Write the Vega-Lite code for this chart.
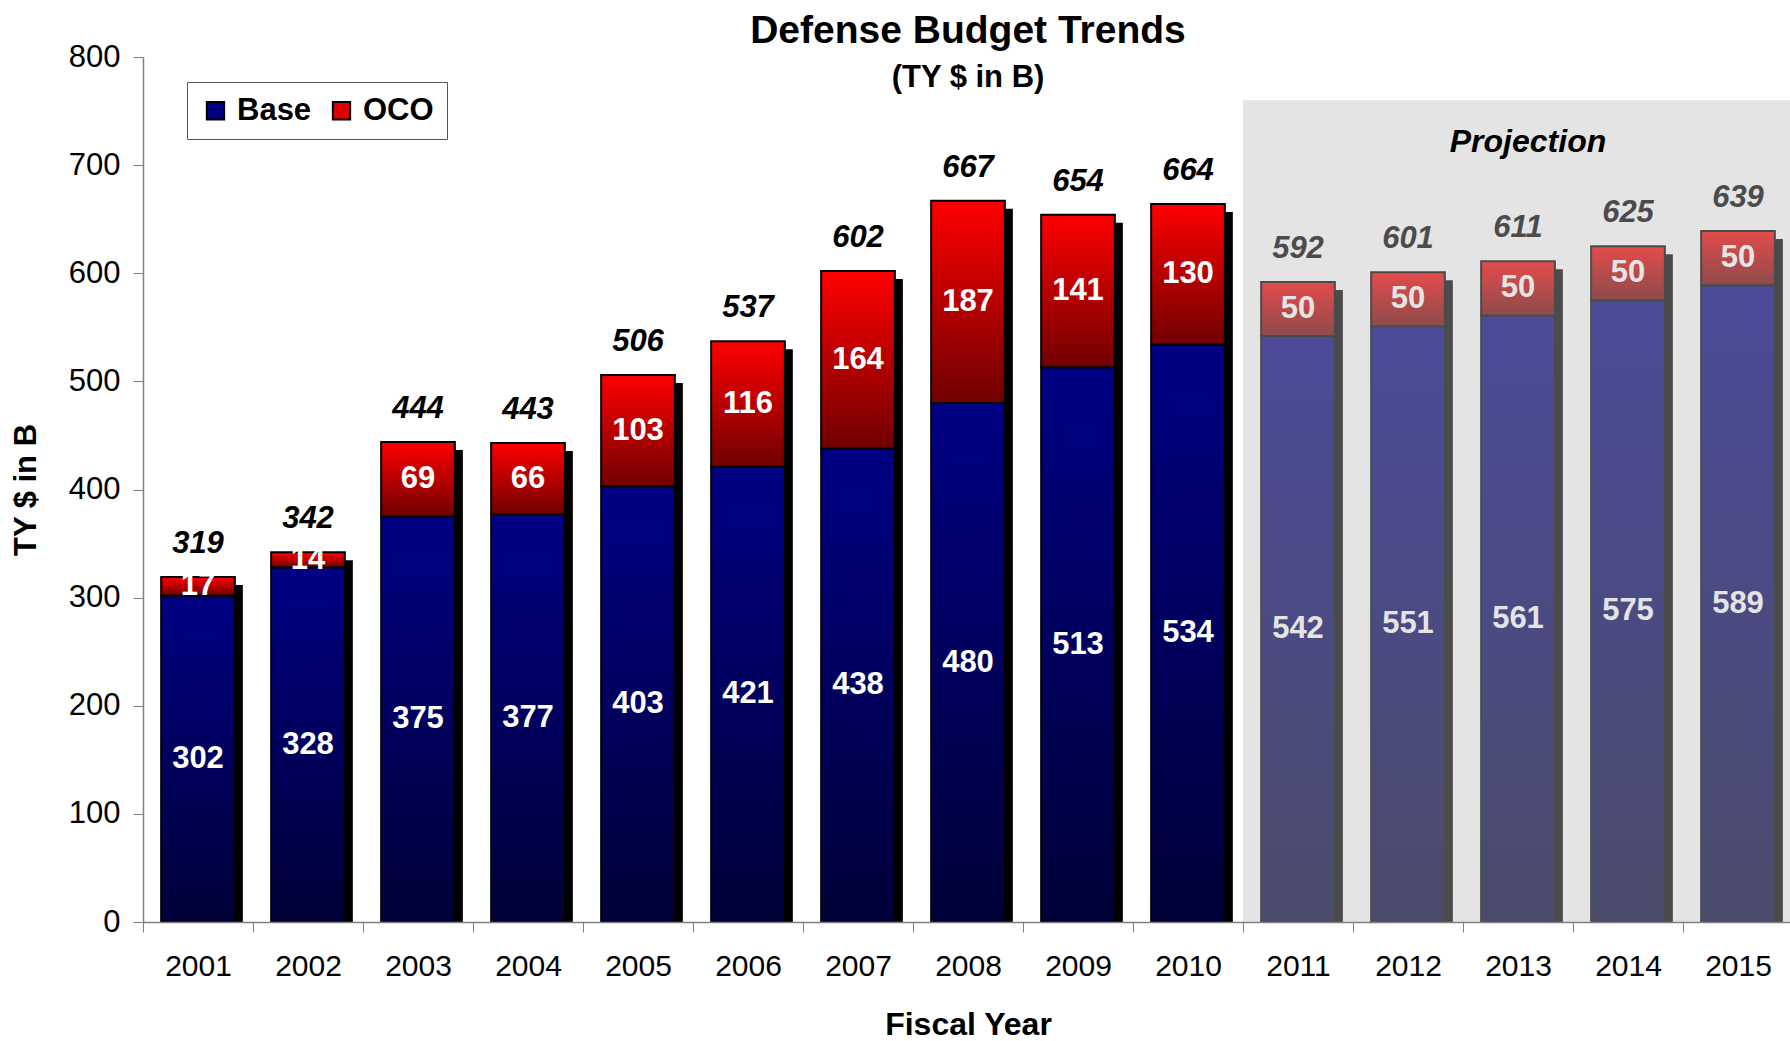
{
  "$schema": "https://vega.github.io/schema/vega-lite/v6.json",
  "width": 1650,
  "height": 865,
  "autosize": {"type": "pad"},
  "padding": {"left": 10, "top": 12, "right": 0, "bottom": 0},
  "background": "white",
  "config": {
    "font": "Liberation Sans",
    "view": {"stroke": null},
    "axis": {"labelFont": "Liberation Sans", "titleFont": "Liberation Sans", "labelColor": "black", "titleColor": "black"}
  },
  "title": {
    "text": "Defense Budget Trends",
    "subtitle": "(TY $ in B)",
    "fontSize": 39,
    "fontWeight": "bold",
    "font": "Liberation Sans",
    "subtitleFont": "Liberation Sans",
    "subtitleFontSize": 31,
    "subtitleFontWeight": "bold",
    "subtitleColor": "black",
    "subtitlePadding": 12,
    "color": "black",
    "anchor": "middle",
    "frame": "group",
    "offset": -52
  },
  "datasets": {
    "totals": [
      {"year": 2001, "total": 319}, {"year": 2002, "total": 342}, {"year": 2003, "total": 444},
      {"year": 2004, "total": 443}, {"year": 2005, "total": 506}, {"year": 2006, "total": 537},
      {"year": 2007, "total": 602}, {"year": 2008, "total": 667}, {"year": 2009, "total": 654},
      {"year": 2010, "total": 664}, {"year": 2011, "total": 592}, {"year": 2012, "total": 601},
      {"year": 2013, "total": 611}, {"year": 2014, "total": 625}, {"year": 2015, "total": 639}
    ],
    "parts": [
      {"year": 2001, "series": "Base", "value": 302}, {"year": 2001, "series": "OCO", "value": 17},
      {"year": 2002, "series": "Base", "value": 328}, {"year": 2002, "series": "OCO", "value": 14},
      {"year": 2003, "series": "Base", "value": 375}, {"year": 2003, "series": "OCO", "value": 69},
      {"year": 2004, "series": "Base", "value": 377}, {"year": 2004, "series": "OCO", "value": 66},
      {"year": 2005, "series": "Base", "value": 403}, {"year": 2005, "series": "OCO", "value": 103},
      {"year": 2006, "series": "Base", "value": 421}, {"year": 2006, "series": "OCO", "value": 116},
      {"year": 2007, "series": "Base", "value": 438}, {"year": 2007, "series": "OCO", "value": 164},
      {"year": 2008, "series": "Base", "value": 480}, {"year": 2008, "series": "OCO", "value": 187},
      {"year": 2009, "series": "Base", "value": 513}, {"year": 2009, "series": "OCO", "value": 141},
      {"year": 2010, "series": "Base", "value": 534}, {"year": 2010, "series": "OCO", "value": 130},
      {"year": 2011, "series": "Base", "value": 542}, {"year": 2011, "series": "OCO", "value": 50},
      {"year": 2012, "series": "Base", "value": 551}, {"year": 2012, "series": "OCO", "value": 50},
      {"year": 2013, "series": "Base", "value": 561}, {"year": 2013, "series": "OCO", "value": 50},
      {"year": 2014, "series": "Base", "value": 575}, {"year": 2014, "series": "OCO", "value": 50},
      {"year": 2015, "series": "Base", "value": 589}, {"year": 2015, "series": "OCO", "value": 50}
    ],
    "note": [{"year": 2013, "label": "Projection"}]
  },
  "encoding": {
    "x": {
      "field": "year",
      "type": "ordinal",
      "scale": {"paddingInner": 0, "paddingOuter": 0},
      "axis": {
        "labelAngle": 0,
        "labelFontSize": 30,
        "labelPadding": 19,
        "tickBand": "extent",
        "tickSize": 10,
        "tickColor": "#808080",
        "domainColor": "#808080",
        "domainWidth": 1.5,
        "titleFontSize": 32,
        "titleFontWeight": "bold",
        "titlePadding": 28,
        "zindex": 1
      },
      "title": "Fiscal Year"
    }
  },
  "layer": [
    {
      "data": {"name": "totals"},
      "mark": {"type": "bar", "width": {"band": 0.67}, "xOffset": 8, "yOffset": 8, "fill": "black", "clip": true},
      "encoding": {
        "y": {
          "field": "total",
          "type": "quantitative",
          "scale": {"domain": [0, 800], "nice": false},
          "axis": {
            "values": [0, 100, 200, 300, 400, 500, 600, 700, 800],
            "grid": false,
            "labelFontSize": 31,
            "labelPadding": 13,
            "tickSize": 10,
            "tickColor": "#808080",
            "domainColor": "#808080",
            "domainWidth": 1.5,
            "titleFontSize": 31,
            "titleFontWeight": "bold",
            "titlePadding": 26
          },
          "title": "TY $ in B"
        }
      }
    },
    {
      "data": {"name": "parts"},
      "mark": {"type": "bar", "width": {"band": 0.67}},
      "encoding": {
        "y": {"field": "value", "type": "quantitative", "stack": "zero"},
        "order": {"field": "series", "sort": "ascending"},
        "color": {
          "field": "series",
          "type": "nominal",
          "scale": {"domain": ["Base", "OCO"], "range": ["#000080", "#e00000"]},
          "legend": {
            "title": null,
            "orient": "none",
            "legendX": 44,
            "legendY": 25,
            "direction": "horizontal",
            "symbolType": "square",
            "symbolSize": 300,
            "symbolOpacity": 1,
            "symbolStrokeColor": "black",
            "symbolStrokeWidth": 2,
            "labelFontSize": 31,
            "labelFontWeight": "bold",
            "labelFont": "Liberation Sans",
            "labelColor": "black",
            "labelOffset": 6,
            "columnPadding": 14,
            "padding": 13,
            "fillColor": "white",
            "strokeColor": "#555555"
          }
        }
      }
    },
    {
      "data": {"name": "parts"},
      "mark": {"type": "bar", "width": {"band": 0.67}, "stroke": "black", "strokeWidth": 2},
      "encoding": {
        "y": {"field": "value", "type": "quantitative", "stack": "zero"},
        "order": {"field": "series", "sort": "ascending"},
        "detail": {"field": "series"},
        "color": {
          "condition": {
            "test": "datum.series === 'Base'",
            "value": {"gradient": "linear", "x1": 0, "y1": 0, "x2": 0, "y2": 1, "stops": [{"offset": 0, "color": "#000084"}, {"offset": 1, "color": "#000038"}]}
          },
          "value": {"gradient": "linear", "x1": 0, "y1": 0, "x2": 0, "y2": 1, "stops": [{"offset": 0, "color": "#ff0000"}, {"offset": 1, "color": "#700000"}]}
        }
      }
    },
    {
      "data": {"name": "parts"},
      "mark": {"type": "text", "color": "white", "fontSize": 31, "fontWeight": "bold", "baseline": "middle", "align": "center"},
      "encoding": {
        "y": {"field": "value", "type": "quantitative", "stack": "zero", "bandPosition": 0.5},
        "detail": {"field": "series"},
        "order": {"field": "series", "sort": "ascending"},
        "text": {"field": "value", "type": "quantitative"}
      }
    },
    {
      "data": {"name": "totals"},
      "mark": {"type": "text", "color": "black", "fontSize": 31, "fontWeight": "bold", "fontStyle": "italic", "baseline": "middle", "align": "center", "dy": -33},
      "encoding": {
        "y": {"field": "total", "type": "quantitative"},
        "text": {"field": "total", "type": "quantitative"}
      }
    },
    {
      "data": {"name": "totals"},
      "transform": [{"filter": "datum.year >= 2011"}],
      "mark": {"type": "bar", "width": {"band": 1}, "fill": "#bbbbbb", "opacity": 0.4},
      "encoding": {
        "y": {"datum": 760, "type": "quantitative"}
      }
    },
    {
      "data": {"name": "note"},
      "mark": {"type": "text", "color": "black", "fontSize": 32, "fontWeight": "bold", "fontStyle": "italic", "baseline": "middle", "align": "center", "dx": 10},
      "encoding": {
        "y": {"datum": 721, "type": "quantitative"},
        "text": {"field": "label"}
      }
    }
  ]
}
